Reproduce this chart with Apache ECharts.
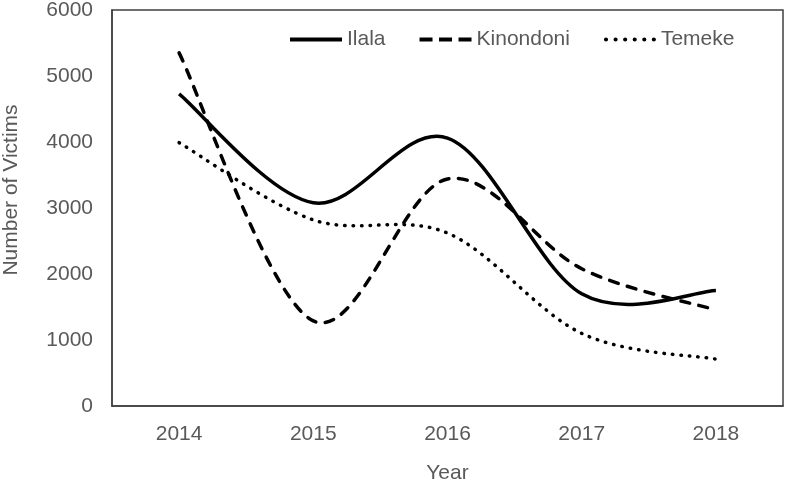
<!DOCTYPE html>
<html>
<head>
<meta charset="utf-8">
<script src="https://cdn.jsdelivr.net/npm/echarts@6/dist/echarts.min.js"></script>
<style>
  html, body { margin: 0; padding: 0; background: #fff; }
  #chart { width: 785px; height: 481px; }
</style>
</head>
<body>
<div id="chart"></div>
<script>
// data
var years = ['2014', '2015', '2016', '2017', '2018'];
var ilala = [4730, 3080, 4060, 1700, 1750];
var kinondoni = [5350, 1290, 3440, 2080, 1455];
var temeke = [3990, 2820, 2620, 1100, 710];

var txt = '#595959';
var font = 'Liberation Sans';

// legend icons (line samples)
var solidIcon = 'path://M0,0h52v4h-52z';
var dashIcon = 'path://M0,0h13v4h-13z M19.5,0h13v4h-13z M39,0h13v4h-13z';
var dotIcon = 'path://' + [0, 1, 2, 3, 4, 5].map(function (i) {
  var x = i * 9.2;
  return 'M' + x + ',2a2,2 0 1,0 4,0a2,2 0 1,0 -4,0z';
}).join(' ');

// excel-like smoothed line (catmull-rom through the points)
function smoothLine(name, values, dash) {
  return {
    name: name,
    type: 'custom',
    coordinateSystem: 'cartesian2d',
    itemStyle: { color: '#000' },
    data: values.map(function (v, i) { return [i, v]; }),
    renderItem: function (params, api) {
      if (params.dataIndex !== 0) return;
      var p = values.map(function (v, i) { return api.coord([i, v]); });
      var d = 'M' + p[0][0] + ',' + p[0][1];
      for (var i = 0; i < p.length - 1; i++) {
        var p0 = p[i - 1] || p[i], p1 = p[i], p2 = p[i + 1], p3 = p[i + 2] || p[i + 1];
        var c1x = p1[0] + (p2[0] - p0[0]) / 6, c1y = p1[1] + (p2[1] - p0[1]) / 6;
        var c2x = p2[0] - (p3[0] - p1[0]) / 6, c2y = p2[1] - (p3[1] - p1[1]) / 6;
        d += 'C' + c1x + ',' + c1y + ',' + c2x + ',' + c2y + ',' + p2[0] + ',' + p2[1];
      }
      return {
        type: 'path',
        shape: { pathData: d },
        style: { fill: 'none', stroke: '#000', lineWidth: 3.5, lineDash: dash, lineCap: dash ? 'round' : 'butt' }
      };
    }
  };
}

var chart = echarts.init(document.getElementById('chart'));
var option = {
  backgroundColor: '#fff',
  animation: false,
  textStyle: { fontFamily: font },
  grid: {
    left: 112, right: 2, top: 10, bottom: 75,
    outerBoundsMode: 'none',
    show: true, borderColor: '#404040', borderWidth: 1.5
  },
  legend: {
    top: 29, left: 290, padding: 0,
    itemWidth: 52, itemHeight: 14, itemGap: 34,
    textStyle: { color: txt, fontSize: 21, fontFamily: font },
    data: [
      { name: 'Ilala', icon: solidIcon },
      { name: 'Kinondoni', icon: dashIcon },
      { name: 'Temeke', icon: dotIcon }
    ]
  },
  xAxis: {
    type: 'category',
    data: years,
    name: 'Year',
    nameLocation: 'middle',
    nameGap: 57,
    nameTextStyle: { color: txt, fontSize: 21 },
    axisTick: { show: false },
    axisLine: { lineStyle: { color: '#404040', width: 1.5 } },
    axisLabel: { color: txt, fontSize: 21, margin: 18 }
  },
  yAxis: {
    type: 'value',
    min: 0, max: 6000, interval: 1000,
    name: 'Number of Victims',
    nameLocation: 'middle',
    nameGap: 90,
    nameTextStyle: { color: txt, fontSize: 21, padding: [0, 0, 0, 36] },
    axisTick: { show: false },
    axisLine: { show: true, lineStyle: { color: '#404040', width: 1.5 } },
    splitLine: { show: false },
    axisLabel: { color: txt, fontSize: 21, margin: 19, formatter: function (v) { return String(v); } }
  },
  series: [
    smoothLine('Ilala', ilala, null),
    smoothLine('Kinondoni', kinondoni, [9, 9.5]),
    smoothLine('Temeke', temeke, [0.5, 8])
  ]
};
chart.setOption(option);
</script>
</body>
</html>
